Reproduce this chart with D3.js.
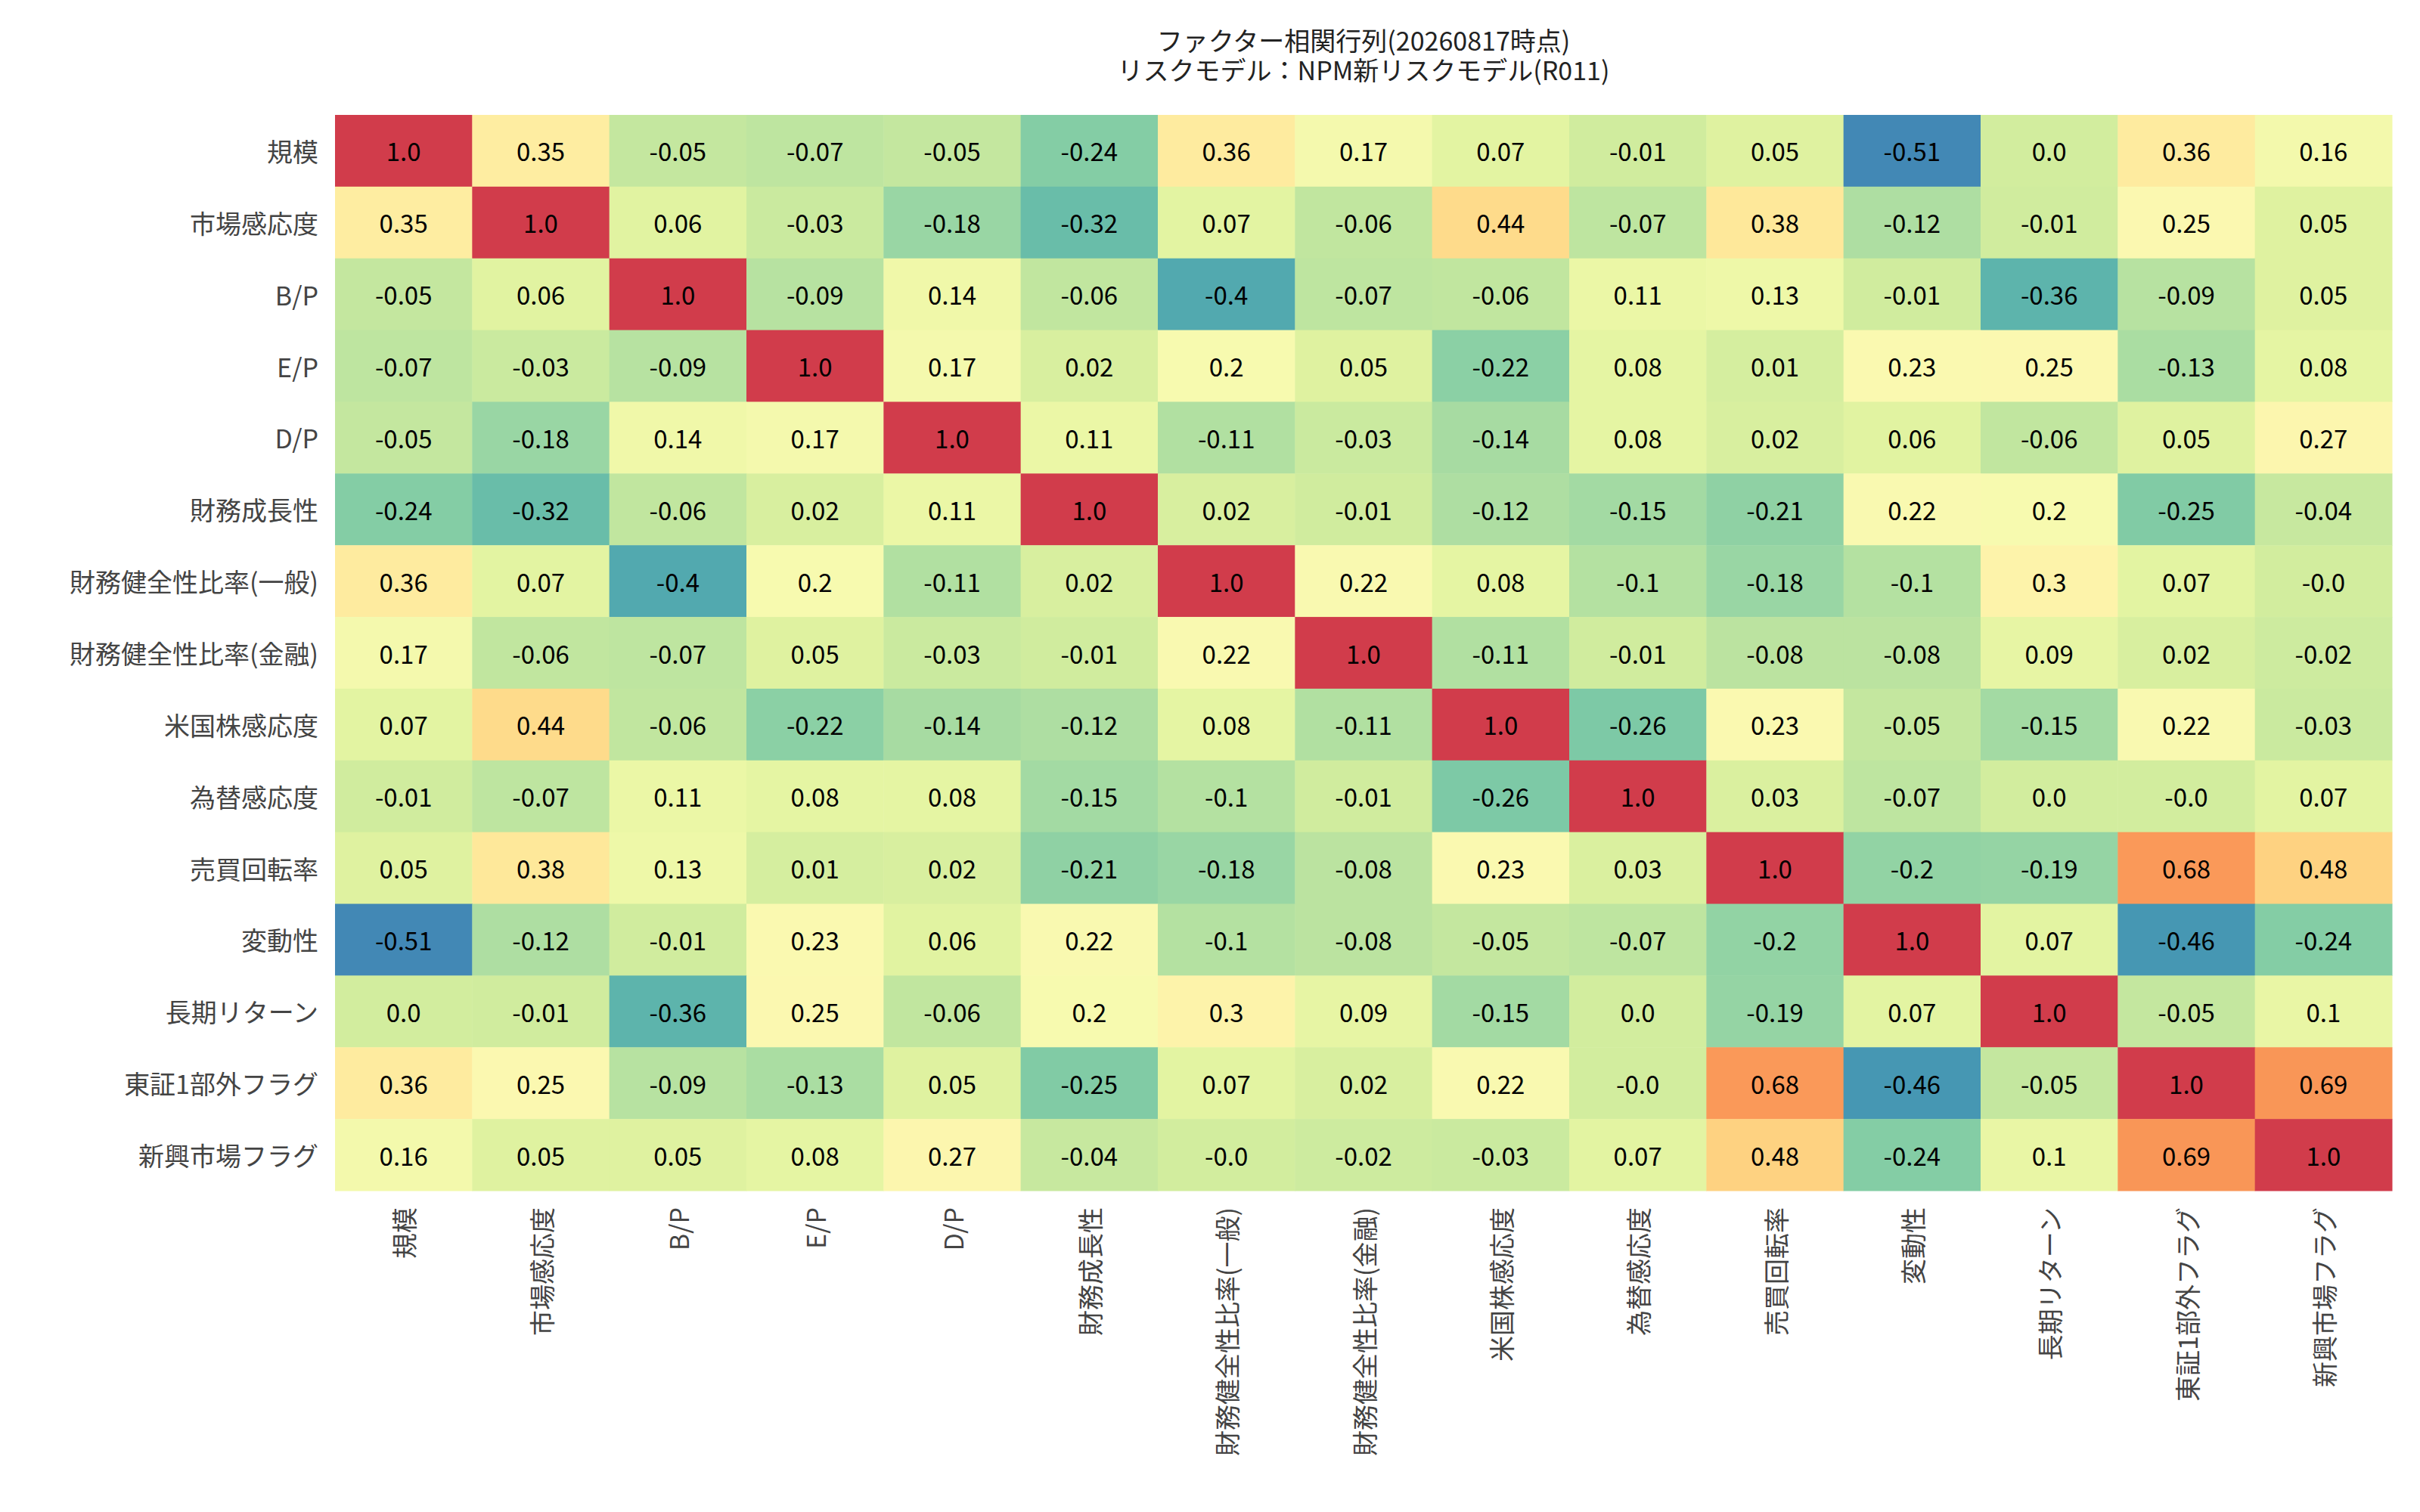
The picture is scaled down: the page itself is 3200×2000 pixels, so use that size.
<!DOCTYPE html>
<html>
<head>
<meta charset="utf-8">
<script src="https://cdn.jsdelivr.net/npm/d3@7"></script>
<style>
  body { margin: 0; background: #fff; }
  text { font-family: "Noto Sans CJK JP", "Noto Sans", sans-serif; }
</style>
</head>
<body>
<svg id="chart" width="3200" height="2000"></svg>
<script>
const factors = ['規模', '市場感応度', 'B/P', 'E/P', 'D/P', '財務成長性', '財務健全性比率(一般)',
    '財務健全性比率(金融)', '米国株感応度', '為替感応度', '売買回転率', '変動性', '長期リターン',
    '東証1部外フラグ', '新興市場フラグ'];

const corr = [
    [1.0, 0.35, -0.05, -0.07, -0.05, -0.24, 0.36, 0.17, 0.07, -0.01, 0.05, -0.51, 0.0, 0.36, 0.16],
    [0.35, 1.0, 0.06, -0.03, -0.18, -0.32, 0.07, -0.06, 0.44, -0.07, 0.38, -0.12, -0.01, 0.25, 0.05],
    [-0.05, 0.06, 1.0, -0.09, 0.14, -0.06, -0.4, -0.07, -0.06, 0.11, 0.13, -0.01, -0.36, -0.09, 0.05],
    [-0.07, -0.03, -0.09, 1.0, 0.17, 0.02, 0.2, 0.05, -0.22, 0.08, 0.01, 0.23, 0.25, -0.13, 0.08],
    [-0.05, -0.18, 0.14, 0.17, 1.0, 0.11, -0.11, -0.03, -0.14, 0.08, 0.02, 0.06, -0.06, 0.05, 0.27],
    [-0.24, -0.32, -0.06, 0.02, 0.11, 1.0, 0.02, -0.01, -0.12, -0.15, -0.21, 0.22, 0.2, -0.25, -0.04],
    [0.36, 0.07, -0.4, 0.2, -0.11, 0.02, 1.0, 0.22, 0.08, -0.1, -0.18, -0.1, 0.3, 0.07, -0.0],
    [0.17, -0.06, -0.07, 0.05, -0.03, -0.01, 0.22, 1.0, -0.11, -0.01, -0.08, -0.08, 0.09, 0.02, -0.02],
    [0.07, 0.44, -0.06, -0.22, -0.14, -0.12, 0.08, -0.11, 1.0, -0.26, 0.23, -0.05, -0.15, 0.22, -0.03],
    [-0.01, -0.07, 0.11, 0.08, 0.08, -0.15, -0.1, -0.01, -0.26, 1.0, 0.03, -0.07, 0.0, -0.0, 0.07],
    [0.05, 0.38, 0.13, 0.01, 0.02, -0.21, -0.18, -0.08, 0.23, 0.03, 1.0, -0.2, -0.19, 0.68, 0.48],
    [-0.51, -0.12, -0.01, 0.23, 0.06, 0.22, -0.1, -0.08, -0.05, -0.07, -0.2, 1.0, 0.07, -0.46, -0.24],
    [0.0, -0.01, -0.36, 0.25, -0.06, 0.2, 0.3, 0.09, -0.15, 0.0, -0.19, 0.07, 1.0, -0.05, 0.1],
    [0.36, 0.25, -0.09, -0.13, 0.05, -0.25, 0.07, 0.02, 0.22, -0.0, 0.68, -0.46, -0.05, 1.0, 0.69],
    [0.16, 0.05, 0.05, 0.08, 0.27, -0.04, -0.0, -0.02, -0.03, 0.07, 0.48, -0.24, 0.1, 0.69, 1.0]
];

const titleLines = ['ファクター相関行列(20260817時点)', 'リスクモデル：NPM新リスクモデル(R011)'];

const svg = d3.select('#chart');
const plotLeft = 443, plotRight = 3163, plotTop = 152, plotBottom = 1575;

const x = d3.scaleBand().domain(factors).range([plotLeft, plotRight]);
const y = d3.scaleBand().domain(factors).range([plotTop, plotBottom]);
// Spectral_r limited to the data range
const color = v => d3.interpolateSpectral(0.1 + (1 - v) / 1.51 * 0.8);

const fmt = v => {
    if (Object.is(v, -0)) return '-0.0';
    return Number.isInteger(Math.round(v * 100) / 10) ? v.toFixed(1) : String(v);
};

const cells = [];
corr.forEach((row, i) => row.forEach((v, j) => cells.push({ r: factors[i], c: factors[j], v })));

svg.append('g').selectAll('rect')
    .data(cells)
    .join('rect')
    .attr('x', d => x(d.c))
    .attr('y', d => y(d.r))
    .attr('width', x.bandwidth() + 0.5)
    .attr('height', y.bandwidth() + 0.5)
    .attr('fill', d => color(d.v));

svg.append('g').selectAll('text')
    .data(cells)
    .join('text')
    .attr('x', d => x(d.c) + x.bandwidth() / 2)
    .attr('y', d => y(d.r) + y.bandwidth() / 2)
    .attr('text-anchor', 'middle')
    .attr('dominant-baseline', 'central')
    .attr('font-size', 33)
    .attr('fill', '#000')
    .text(d => fmt(d.v));

// row labels
svg.append('g').selectAll('text')
    .data(factors)
    .join('text')
    .attr('x', plotLeft - 22)
    .attr('y', d => y(d) + y.bandwidth() / 2)
    .attr('text-anchor', 'end')
    .attr('dominant-baseline', 'central')
    .attr('font-size', 34)
    .attr('fill', '#444')
    .text(d => d);

// column labels, rotated
svg.append('g').selectAll('text')
    .data(factors)
    .join('text')
    .attr('transform', d => `translate(${x(d) + x.bandwidth() / 2},${plotBottom + 22}) rotate(-90)`)
    .attr('text-anchor', 'end')
    .attr('dominant-baseline', 'central')
    .attr('font-size', 34)
    .attr('fill', '#444')
    .text(d => d);

svg.append('g').selectAll('text')
    .data(titleLines)
    .join('text')
    .attr('x', (plotLeft + plotRight) / 2)
    .attr('y', (d, i) => 52 + i * 39)
    .attr('text-anchor', 'middle')
    .attr('dominant-baseline', 'central')
    .attr('font-size', 34)
    .attr('fill', '#222')
    .text(d => d);
</script>
</body>
</html>
